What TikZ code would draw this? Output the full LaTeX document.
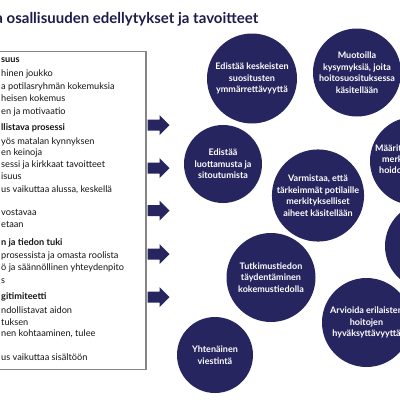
\documentclass[tikz,border=0pt]{standalone}
\usepackage{fontspec}
\setmainfont{Lato}
\setsansfont{Lato}
\definecolor{navy}{HTML}{27255F}
\definecolor{titlecol}{HTML}{1E1C4A}
\definecolor{txtcol}{HTML}{151515}
\definecolor{boxline}{HTML}{858585}
\tikzset{
  bubble/.style={circle, fill=navy, text=white, align=center, inner sep=0pt,
    font=\bfseries\fontsize{9}{11.5}\selectfont},
  frag/.style={anchor=west, text=white, inner sep=0pt,
    font=\bfseries\fontsize{9}{11.5}\selectfont},
  boxtxt/.style={anchor=west, inner sep=0pt, text=txtcol, text height=7pt, text depth=2pt,
    font=\fontsize{9.2}{12}\selectfont},
  boxhead/.style={boxtxt, font=\bfseries\fontsize{9.2}{12}\selectfont},
  panel/.style={draw=boxline, line width=1.3pt, fill=white}
}
\newcommand\blockarrow[1]{\fill[navy] (#1) ++(0,-5.5) -- ++(12,0) -- ++(0,-4.5) -- ++(10,10) -- ++(-10,10) -- ++(0,-4.5) -- ++(-12,0) -- cycle;}
\begin{document}
\begin{tikzpicture}[x=1pt,y=-1pt]
\useasboundingbox (0,0) rectangle (400,400);
\fill[white] (0,0) rectangle (400,400);
% title
\node[anchor=base west, inner sep=0pt, text=titlecol, font=\bfseries\fontsize{15}{18}\selectfont] (title) at (-4.8,23) {a osallisuuden edellytykset ja tavoitteet};
% panel
\node[panel, anchor=north east, minimum width=170pt, minimum height=318pt, inner sep=0pt] (panel) at (146.5,51) {};
\node[boxhead] (t1) at (1,60) {suus};
\node[boxtxt] (t2) at (1,73.5) {hinen joukko};
\node[boxtxt] (t3) at (1,86.5) {a potilasryhmän kokemuksia};
\node[boxtxt] (t4) at (1,99) {heisen kokemus};
\node[boxtxt] (t5) at (1,111.5) {en ja motivaatio};
\node[boxhead] (t6) at (1,128) {llistava prosessi};
\node[boxtxt] (t7) at (1,141.5) {yös matalan kynnyksen};
\node[boxtxt] (t8) at (1,153) {en keinoja};
\node[boxtxt] (t9) at (1,165) {sessi ja kirkkaat tavoitteet};
\node[boxtxt] (t10) at (1,177) {isuus};
\node[boxtxt] (t11) at (1,190) {us vaikuttaa alussa, keskellä};
\node[boxtxt] (t12) at (1,213) {vostavaa};
\node[boxtxt] (t13) at (1,225) {etaan};
\node[boxhead] (t14) at (1,243) {n ja tiedon tuki};
\node[boxtxt] (t15) at (1,255.5) {prosessista ja omasta roolista};
\node[boxtxt] (t16) at (1,268) {ö ja säännöllinen yhteydenpito};
\node[boxtxt] (t17) at (1,281) {s};
\node[boxhead] (t18) at (1,296.5) {gitimiteetti};
\node[boxtxt] (t19) at (1,311) {ndollistavat aidon};
\node[boxtxt] (t20) at (1,322.5) {tuksen};
\node[boxtxt] (t21) at (1,334) {nen kohtaaminen, tulee};
\node[boxtxt] (t22) at (1,358) {us vaikuttaa sisältöön};
% arrows
\coordinate (a1) at (147.5,125);
\coordinate (a2) at (147.5,168);
\coordinate (a3) at (147.5,210.5);
\coordinate (a4) at (147.5,254);
\coordinate (a5) at (147.5,297);
\blockarrow{a1}\blockarrow{a2}\blockarrow{a3}\blockarrow{a4}\blockarrow{a5}
% bubbles
\node[bubble, minimum size=90pt] (c1) at (252,78.5) {Edistää keskeisten\\suositusten\\ymmärrettävyyttä};
\node[bubble, minimum size=88pt] (c2) at (357,72.5) {Muotoilla\\kysymyksiä, joita\\hoitosuosituksessa\\käsitellään};
\node[bubble, minimum size=88pt] (c3) at (414,161) {};
\node[frag] (f1) at (375,148) {Määrit};
\node[frag] (f2) at (382,159) {merk};
\node[frag] (f3) at (379,170) {hoido};
\node[bubble, minimum size=88pt] (c4) at (429,246) {};
\node[bubble, minimum size=78pt] (c5) at (223,164) {Edistää\\luottamusta ja\\sitoutumista};
\node[bubble, minimum size=87pt] (c6) at (318,195.5) {Varmistaa, että\\tärkeimmät potilaille\\merkitykselliset\\aiheet käsitellään};
\node[bubble, minimum size=89pt] (c7) at (271,277.5) {Tutkimustiedon\\täydentäminen\\kokemustiedolla};
\node[bubble, minimum size=89pt] (c9) at (366.5,322.5) {Arvioida erilaisten\\hoitojen\\hyväksyttävyyttä};
\node[bubble, minimum size=76pt] (c8) at (215,355) {Yhtenäinen\\viestintä};
\end{tikzpicture}
\end{document}
